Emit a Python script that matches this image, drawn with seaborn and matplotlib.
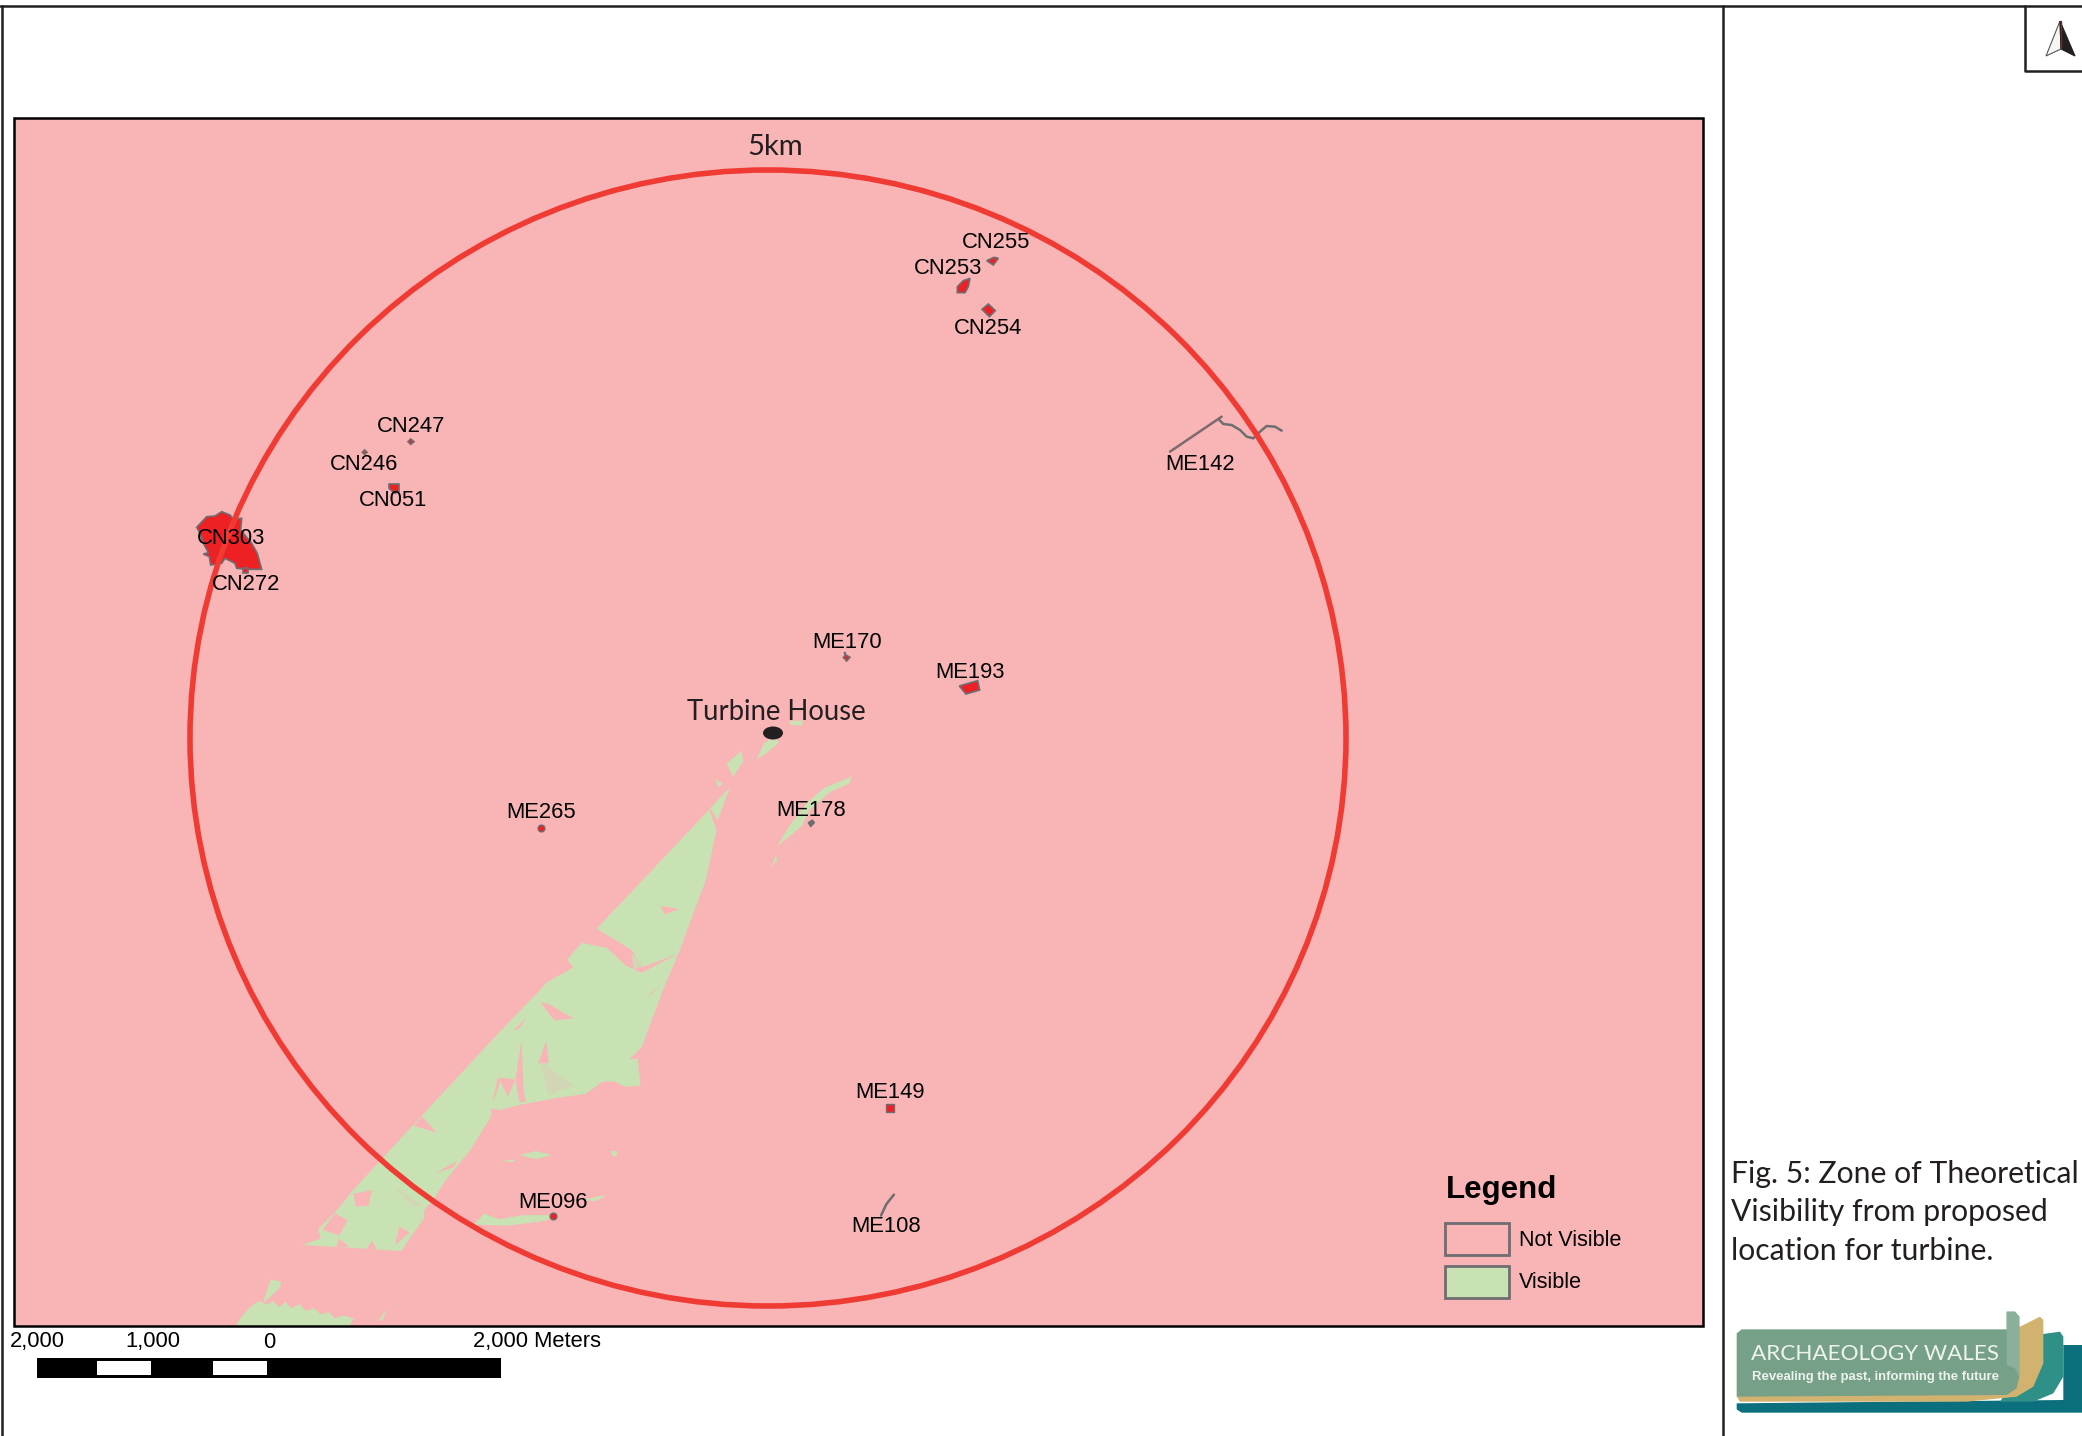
import matplotlib
matplotlib.use("Agg")
import matplotlib.pyplot as plt
import seaborn as sns
from matplotlib.patches import Ellipse, Polygon, Rectangle

sns.set_theme(style="white")
plt.rcParams["font.family"] = ["Liberation Sans", "DejaVu Sans"]

LAND_ORIGIN = (250, 700, 2.412, 2.45)
NW_ORIGIN = (170, 400, 3, 3)
NE_ORIGIN = (880, 220, 3, 3)
MID_ORIGIN = (680, 620, 3, 3)
LOGO_ORIGIN = (1700, 1130, 3, 3)

# Visible zone
visible_main = [(1108, 268), (1125, 320), (1100, 440), (1032, 625), (1000, 700), (945, 850), (915, 880),
                (935, 878), (942, 945), (905, 948), (880, 935), (850, 935), (810, 965), (740, 975),
                (650, 992), (600, 1005), (582, 1000), (582, 1020), (530, 1105), (505, 1135), (470, 1180),
                (445, 1220), (420, 1250), (420, 1270), (395, 1305), (365, 1350), (125, 1335), (170, 1320),
                (165, 1295), (210, 1250), (245, 1205), (390, 1045), (600, 815), (700, 710), (715, 692),
                (780, 655), (765, 635), (800, 595), (836, 560)]
visible_patches = [
    [(1158, 213), (1128, 295), (1110, 265)],
    [(1122, 192), (1140, 205), (1130, 215)],
    [(1150, 155), (1185, 125), (1190, 150), (1165, 188)],
    [(1222, 145), (1240, 105), (1265, 90), (1275, 105), (1240, 135)],
    [(1300, 52), (1335, 50), (1330, 62), (1305, 62)],
    [(1452, 187), (1445, 205), (1400, 225), (1350, 270), (1330, 310), (1270, 360), (1300, 310),
     (1340, 255), (1385, 215)],
    [(1268, 380), (1272, 392), (1258, 410)],
    [(605, 1130), (640, 1125), (635, 1132)],
    [(650, 1115), (690, 1105), (728, 1115), (690, 1125)],
    [(868, 1105), (885, 1105), (885, 1118), (875, 1118)],
    [(540, 1285), (565, 1258), (600, 1272), (660, 1262), (715, 1262), (740, 1268), (700, 1278), (620, 1288)],
    [(800, 1225), (860, 1212), (835, 1228)],
    [(-36, 1535), (-20, 1510), (0, 1488), (22, 1472), (40, 1482), (55, 1472), (70, 1488), (85, 1475),
     (100, 1490), (120, 1480), (135, 1497), (155, 1490), (170, 1505), (190, 1500), (205, 1515),
     (225, 1508), (250, 1515), (240, 1535)],
    [(50, 1420), (75, 1425), (72, 1440), (30, 1480)],
    [(310, 1520), (330, 1492), (320, 1520)],
]
not_visible_holes = [
    [(836, 560), (920, 612), (945, 655), (1032, 622), (945, 668), (905, 650), (880, 625), (860, 607), (800, 595)],
    [(990, 505), (1035, 512), (1000, 525)],
    [(700, 740), (720, 745), (780, 780), (735, 785), (722, 770)],
    [(655, 835), (660, 960), (665, 985), (650, 985), (640, 930)],
    [(715, 835), (695, 890), (720, 890)],
    [(600, 925), (622, 972), (640, 930)],
    [(597, 927), (585, 990), (604, 935)],
    [(395, 1043), (450, 1060), (415, 1020)],
    [(635, 810), (665, 780), (650, 805)],
    [(445, 1160), (500, 1130), (490, 1145)],
    [(950, 730), (985, 705), (975, 715)],
    [(250, 1210), (295, 1200), (285, 1240), (255, 1240)],
    [(205, 1258), (175, 1298), (215, 1312), (235, 1275)],
    [(215, 1320), (240, 1340), (208, 1340)],
    [(280, 1345), (295, 1325), (305, 1345)],
    [(360, 1290), (385, 1305), (350, 1335)],
]
# dithered bits of the raster, a shade between the two zones
mixed_patches = [
    [(700, 885), (780, 945), (720, 968)],
    [(345, 1190), (420, 1240), (390, 1240)],
    [(920, 620), (950, 650), (925, 660)],
]

# Heritage sites
cn303 = [(80, 382), (110, 350), (135, 348), (155, 335), (180, 345), (190, 358), (215, 355), (212, 390),
         (245, 430), (262, 460), (275, 508), (235, 508), (200, 505), (195, 490), (165, 475), (155, 490),
         (122, 495), (118, 470), (100, 462), (115, 458), (100, 430), (90, 400)]
cn272 = [(220, 505), (235, 505), (235, 518), (220, 518)]
cn051 = [(657, 252), (687, 252), (687, 275), (675, 280), (657, 265)]
cn247 = [(722, 117), (732, 125), (722, 133), (714, 125)]
cn246 = [(584, 150), (591, 157), (584, 163), (577, 157)]
cn255 = [(320, 122), (342, 112), (355, 115), (340, 135)]
cn253 = [(232, 200), (250, 182), (270, 175), (265, 200), (255, 218), (232, 218)]
cn254 = [(325, 252), (346, 272), (328, 290), (306, 268)]
me170 = [(493, 96), (498, 105), (510, 112), (500, 123), (490, 112), (496, 106)]
me193 = [(838, 198), (893, 182), (899, 210), (858, 222)]
me178 = [(385, 608), (397, 600), (403, 608), (392, 620)]
me142_line = [(870, 695), (1025, 590)]
me142_wiggle = [(1018, 600), (1030, 612), (1055, 615), (1080, 630), (1100, 650), (1120, 655), (1140, 635),
                (1160, 618), (1185, 620), (1205, 632)]
me108_line = [(1522, 1263), (1535, 1235), (1553, 1212)]

point_x = [541, 553, 890]
point_y = [828, 1216, 1108]
point_marker = ["o", "o", "s"]

label_names = ["CN255", "CN253", "CN254", "ME142", "CN247", "CN246", "CN051", "CN303", "CN272", "ME170",
               "ME193", "ME178", "ME265", "ME149", "ME096", "ME108"]
label_x = [996, 948, 988, 1200, 411, 364, 393, 231, 246, 847, 970, 811, 541, 890, 553, 886]
label_y = [243, 268, 329, 464, 426, 465, 501, 539, 584, 642, 672, 810, 812, 1093, 1202, 1227]

# Scale bar, metres along the bar against black/white
scale_left_m = [-2000, -1500, -1000, -500, 0]
scale_width_m = [500, 500, 500, 500, 2000]
scale_white = [False, True, False, True, False]
scale_tick_m = [-2000, -1000, 0]
scale_tick_labels = ["2,000", "1,000", "0"]

# Logo
logo_back = [(110, 820), (110, 838), (125, 848), (1146, 848), (1146, 645), (1090, 645), (1090, 810)]
logo_mid = [(1030, 612), (1080, 605), (1090, 620), (1090, 740), (1060, 790), (1000, 815), (900, 815)]
logo_gold = [(960, 590), (1020, 560), (1030, 570), (1030, 700), (1000, 770), (950, 800), (800, 815),
             (120, 815), (110, 800)]
logo_green = [(110, 610), (125, 598), (920, 598), (920, 545), (945, 545), (958, 560), (958, 740), (950, 775),
              (920, 795), (110, 800)]
logo_fold = [(920, 598), (920, 545), (945, 545), (958, 560), (958, 740), (945, 715), (920, 705)]

PINK = "#f9b4b6"
GREEN = "#c9e2b3"
MIXED = "#d3d6b5"
RED = "#ed2024"
CIRCLE_RED = "#ef3b33"
GREY = "#6d6e71"
DARK = "#231f20"


def to_px(points, origin):
    x0, y0, sx, sy = origin
    return [(x0 + x / sx, y0 + y / sy) for x, y in points]


fig = plt.figure(figsize=(20.82, 14.36), dpi=100)
ax = fig.add_axes([0, 0, 1, 1])
ax.set_xlim(0, 2082)
ax.set_ylim(1436, 0)
ax.axis("off")

# Map background and zones
frame = Rectangle((14, 118), 1689, 1208, facecolor=PINK, edgecolor="none", zorder=1)
ax.add_patch(frame)

ax.add_patch(Polygon(to_px(visible_main, LAND_ORIGIN), facecolor=GREEN, edgecolor="none", zorder=2))
for shape in visible_patches:
    p = Polygon(to_px(shape, LAND_ORIGIN), facecolor=GREEN, edgecolor="none", zorder=2)
    ax.add_patch(p)
    p.set_clip_path(frame)
for shape in not_visible_holes:
    ax.add_patch(Polygon(to_px(shape, LAND_ORIGIN), facecolor=PINK, edgecolor="none", zorder=3))
for shape in mixed_patches:
    ax.add_patch(Polygon(to_px(shape, LAND_ORIGIN), facecolor=MIXED, edgecolor="none", zorder=3))

# Sites
site_shapes = [(cn303, NW_ORIGIN), (cn272, NW_ORIGIN), (cn051, NW_ORIGIN), (cn247, NW_ORIGIN), (cn246, NW_ORIGIN),
               (cn255, NE_ORIGIN), (cn253, NE_ORIGIN), (cn254, NE_ORIGIN), (me170, MID_ORIGIN), (me193, MID_ORIGIN)]
for shape, origin in site_shapes:
    ax.add_patch(Polygon(to_px(shape, origin), facecolor=RED, edgecolor=GREY, linewidth=1.2, zorder=4))
ax.add_patch(Polygon(to_px(me178, MID_ORIGIN), facecolor=GREY, edgecolor=GREY, linewidth=1, zorder=4))

for line, origin, colour in [(me142_line, NE_ORIGIN, "#7d6a6d"), (me142_wiggle, NE_ORIGIN, GREY),
                             (me108_line, LAND_ORIGIN, GREY)]:
    pts = to_px(line, origin)
    sns.lineplot(x=[p[0] for p in pts], y=[p[1] for p in pts], color=colour, linewidth=1.8,
                 estimator=None, sort=False, ax=ax, zorder=4)

for x, y, m in zip(point_x, point_y, point_marker):
    sns.scatterplot(x=[x], y=[y], marker=m, color=RED, edgecolor=GREY, linewidth=1, s=40 if m == "s" else 24,
                    ax=ax, zorder=4, legend=False)

# 5km buffer
ax.add_patch(Ellipse((768, 738), 1156, 1136, facecolor="none", edgecolor=CIRCLE_RED, linewidth=4, zorder=5))
ax.add_patch(Ellipse((773, 733), 20, 13, facecolor=DARK, edgecolor="none", zorder=5))

# Frame and page lines
ax.add_patch(Rectangle((14, 118), 1689, 1208, facecolor="none", edgecolor="black", linewidth=1.8, zorder=6))
ax.plot([0, 2082], [6, 6], color=DARK, linewidth=1.8, zorder=6)
ax.plot([2, 2], [6, 1436], color=DARK, linewidth=1.8, zorder=6)
ax.plot([1723, 1723], [6, 1436], color=DARK, linewidth=1.8, zorder=6)
ax.plot([2025, 2025, 2082], [6, 71, 71], color=DARK, linewidth=1.8, zorder=6)

# North arrow
ax.add_patch(Polygon([(2060, 21), (2061, 49), (2046, 56)], facecolor="#f5f5f5", edgecolor="#555555", linewidth=0.8, zorder=6))
ax.add_patch(Polygon([(2060, 21), (2061, 49), (2075, 56)], facecolor=DARK, edgecolor=DARK, linewidth=0.8, zorder=6))
ax.plot([2060.5, 2060.5], [21, 48], color="#6b2d2d", linewidth=1, zorder=7)

# Labels
for name, x, y in zip(label_names, label_x, label_y):
    ax.text(x, y, name, fontsize=15.8, color="black", ha="center", va="center", zorder=8)
ax.text(776, 712, "Turbine House", fontsize=19.8, color=DARK, family="Lato", ha="center", va="center", zorder=8)
ax.text(775, 147, "5km", fontsize=21, color=DARK, family="Lato", ha="center", va="center", zorder=8)

# Legend
ax.text(1446, 1190, "Legend", fontsize=22.5, fontweight="bold", color="black", ha="left", va="center", zorder=8)
ax.add_patch(Rectangle((1445, 1223), 64, 32, facecolor=PINK, edgecolor=GREY, linewidth=2, zorder=6))
ax.add_patch(Rectangle((1445, 1266), 64, 32, facecolor=GREEN, edgecolor=GREY, linewidth=2, zorder=6))
ax.text(1519, 1240, "Not Visible", fontsize=15.5, color="black", ha="left", va="center", zorder=8)
ax.text(1519, 1282, "Visible", fontsize=15.5, color="black", ha="left", va="center", zorder=8)

# Scale bar: 0 sits at x=269, 2000 m is 232 px
m_to_px = 232 / 2000
for left, width, white in zip(scale_left_m, scale_width_m, scale_white):
    ax.add_patch(Rectangle((269 + left * m_to_px, 1358), width * m_to_px, 20, facecolor="black", edgecolor="none", zorder=6))
    if white:
        ax.add_patch(Rectangle((269 + left * m_to_px + 2, 1361), width * m_to_px - 4, 14, facecolor="white", edgecolor="none", zorder=7))
for tick, text in zip(scale_tick_m, scale_tick_labels):
    ax.text(269 + tick * m_to_px, 1342, text, fontsize=15.8, color="black", ha="center", va="center", zorder=8)
ax.text(473, 1342, "2,000 Meters", fontsize=15.8, color="black", ha="left", va="center", zorder=8)

# Caption
caption = ["Fig. 5: Zone of Theoretical", "Visibility from proposed", "location for turbine."]
for text, y in zip(caption, [1183, 1221, 1260]):
    ax.text(1731, y, text, fontsize=21.7, color=DARK, family="Lato", ha="left", va="baseline")

# Logo
for shape, colour in [(logo_back, "#0c6f7d"), (logo_mid, "#2e9087"), (logo_gold, "#d2b26f"),
                      (logo_green, "#76a088"), (logo_fold, "#8ab09c")]:
    ax.add_patch(Polygon(to_px(shape, LOGO_ORIGIN), facecolor=colour, edgecolor="none", zorder=2))
ax.text(1875, 1354, "ARCHAEOLOGY WALES", fontsize=16.2, color="#eef3ee", family="Lato", ha="center", va="center", zorder=3)
ax.text(1875, 1377, "Revealing the past, informing the future", fontsize=9.45, fontweight="bold", color="#eef3ee",
        ha="center", va="center", zorder=3)

fig.savefig("out.png", dpi=100, facecolor="white")
plt.close(fig)
